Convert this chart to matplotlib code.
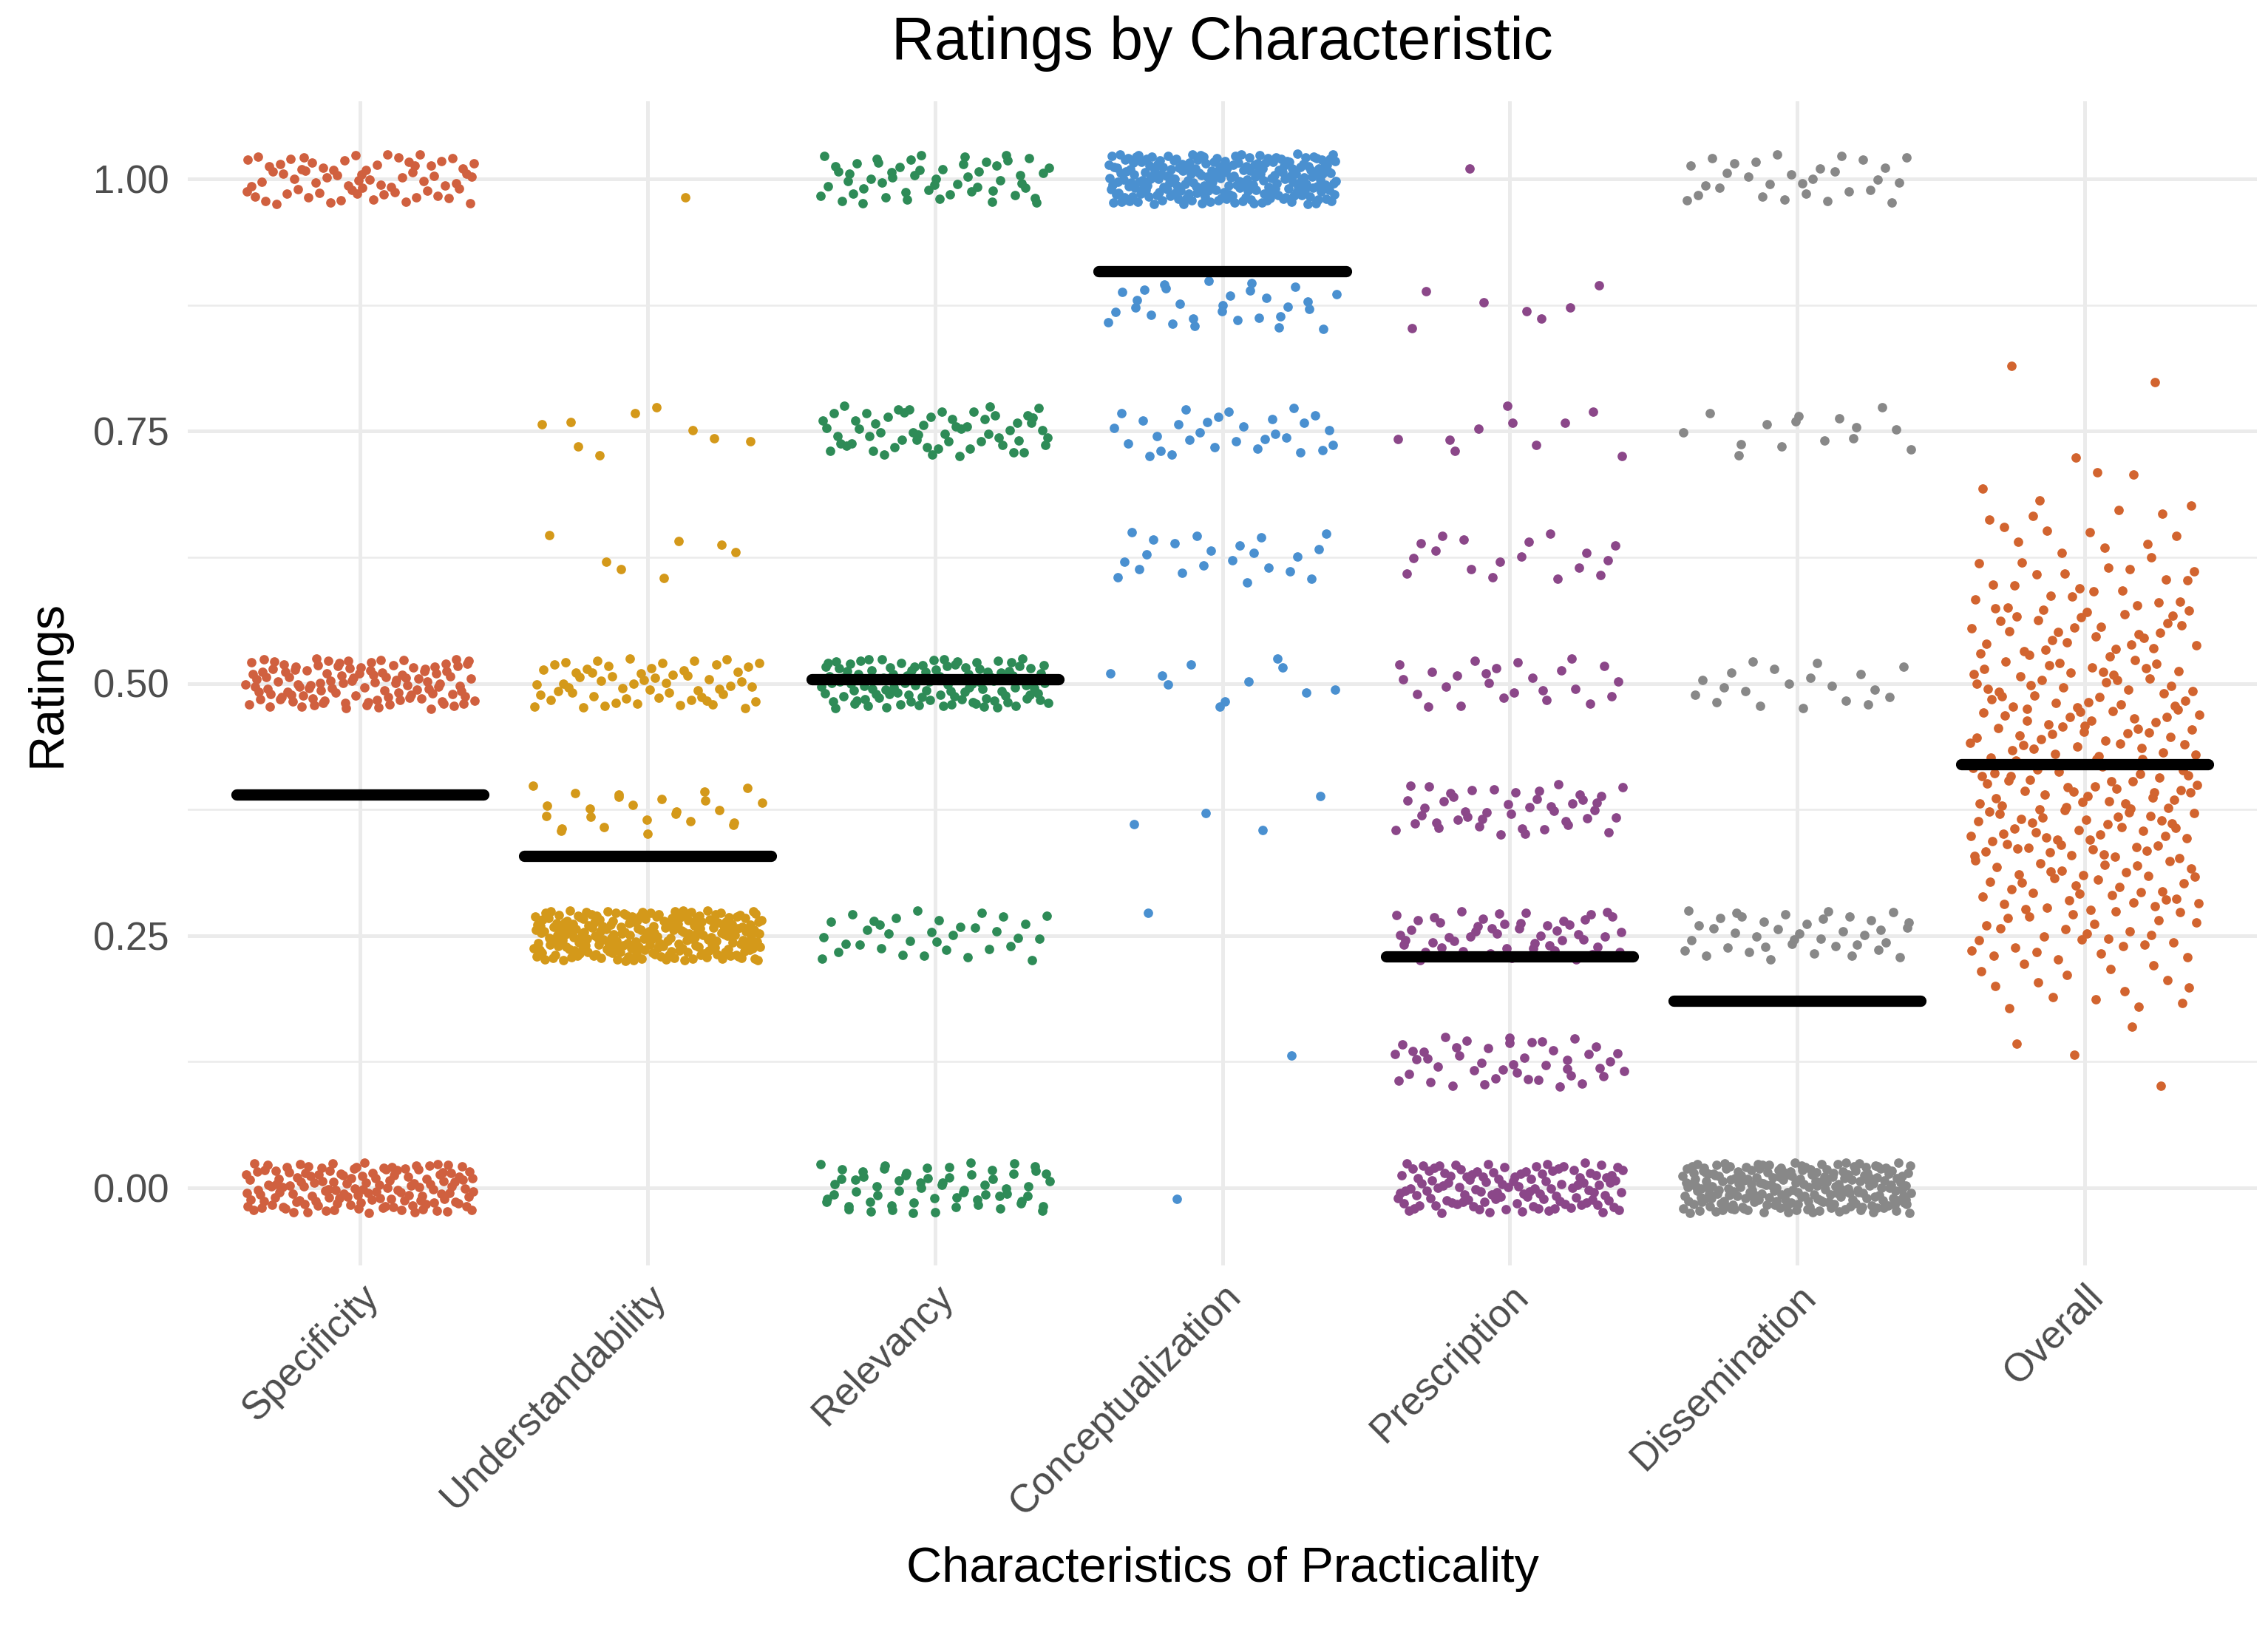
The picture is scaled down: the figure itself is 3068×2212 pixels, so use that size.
import numpy as np
import matplotlib
matplotlib.use("Agg")
import matplotlib.pyplot as plt

plt.rcParams['font.family'] = ['Liberation Sans', 'DejaVu Sans']

categories = ["Specificity", "Understandability", "Relevancy", "Conceptualization",
              "Prescription", "Dissemination", "Overall"]
colors = ["#D0603F", "#D4991A", "#2E8B57", "#4A90D0", "#8B4789", "#888888", "#D2642F"]

# rating levels and number of ratings observed at each level
spec_levels = [0.0, 0.5, 1.0]
spec_counts = [143, 117, 70]
und_levels = [0.25, 0.375, 0.5, 0.625, 0.75, 1.0]
und_counts = [228, 25, 60, 7, 9, 1]
rel_levels = [0.0, 0.25, 0.5, 0.75, 1.0]
rel_counts = [65, 35, 115, 60, 55]
con_levels = [0.0, 0.125, 0.25, 0.375, 0.5, 0.625, 0.75, 0.875, 1.0]
con_counts = [1, 1, 1, 4, 11, 22, 30, 30, 230]
pre_levels = [0.0, 0.125, 0.25, 0.375, 0.5, 0.625, 0.75, 0.875, 1.0]
pre_counts = [120, 45, 55, 45, 25, 18, 10, 7, 1]
dis_levels = [0.0, 0.25, 0.5, 0.75, 1.0]
dis_counts = [225, 40, 20, 15, 30]
ovr_levels = [0.125, 0.15, 0.20, 0.25, 0.30, 0.35, 0.40, 0.45, 0.50, 0.55, 0.60, 0.65, 0.70, 0.75, 0.80]
ovr_counts = [1, 3, 15, 28, 38, 45, 45, 42, 38, 33, 22, 12, 6, 0, 2]

all_levels = [spec_levels, und_levels, rel_levels, con_levels, pre_levels, dis_levels, ovr_levels]
all_counts = [spec_counts, und_counts, rel_counts, con_counts, pre_counts, dis_counts, ovr_counts]


def halton(idx, base):
    out = np.zeros(len(idx))
    for k, i in enumerate(idx):
        f, r, i = 1.0, 0.0, int(i)
        while i > 0:
            f /= base
            r += f * (i % base)
            i //= base
        out[k] = r
    return out


W, H, DPI = 3068, 2212, 200
fig = plt.figure(figsize=(W / DPI, H / DPI), dpi=DPI)
ax = fig.add_axes([254 / W, 1 - 1712 / H, (3053 - 254) / W, (1712 - 137) / H])

for s in ax.spines.values():
    s.set_visible(False)

ax.set_xlim(0.4, 7.6)
ax.set_ylim(-0.077, 1.077)
ax.set_yticks([0, 0.25, 0.5, 0.75, 1.0])
ax.set_yticklabels(["0.00", "0.25", "0.50", "0.75", "1.00"])
ax.set_yticks([0.125, 0.375, 0.625, 0.875], minor=True)
ax.set_xticks(np.arange(1, 8))
ax.set_xticklabels(categories, rotation=45, ha='right', va='top', rotation_mode='anchor')
ax.grid(True, which='major', color='#EBEBEB', linewidth=1.8)
ax.grid(True, which='minor', axis='y', color='#EBEBEB', linewidth=0.9)
ax.set_axisbelow(True)
ax.tick_params(axis='both', which='both', length=0, labelsize=19, labelcolor='#4D4D4D')
ax.tick_params(axis='y', pad=9)
ax.tick_params(axis='x', pad=6)

for ci, (lv, ct, col) in enumerate(zip(all_levels, all_counts, colors)):
    vals = np.repeat(np.array(lv, dtype=float), ct)
    n = len(vals)
    idx = np.arange(n) + 211 * ci + 57
    dx = (halton(idx, 2) - 0.5) * 0.8
    dy = (halton(idx, 3) - 0.5) * 0.05
    xpos = ci + 1 + dx
    ax.scatter(xpos, vals + dy, s=21, color=col, linewidths=0, zorder=2)
    m = vals.mean()
    ax.plot([ci + 1 - 0.43, ci + 1 + 0.43], [m, m], color='black', linewidth=5.5,
            solid_capstyle='round', zorder=3)

ax.text(0.5, 1.0497, "Ratings by Characteristic", transform=ax.transAxes,
        ha='center', va='center', fontsize=29, color='black')
ax.set_xlabel("Characteristics of Practicality", fontsize=24, va='center')
ax.xaxis.set_label_coords(0.5, -0.261)
ax.set_ylabel("Ratings", fontsize=24, va='center')
ax.yaxis.set_label_coords(-0.0678, 0.5)

fig.savefig("out.png", dpi=DPI)
